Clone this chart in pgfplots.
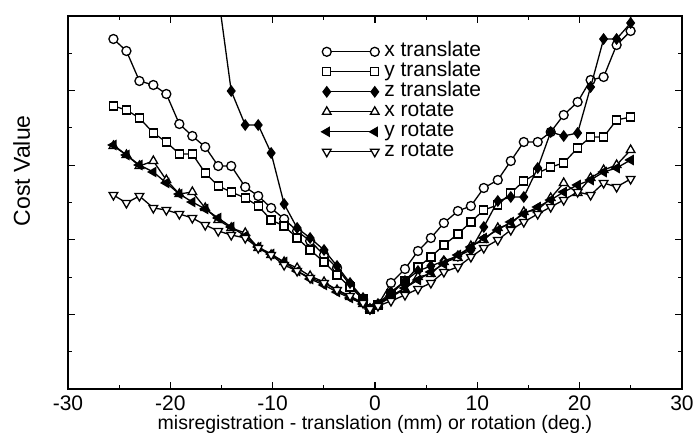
\documentclass[border=0pt]{standalone}
\usepackage{fontspec}
\setmainfont{Liberation Sans}
\usepackage{pgfplots}
\usepackage{pgfplotstable}
\pgfplotsset{compat=1.18}

% x, x translate, y translate, x rotate, y rotate, z rotate  (y in plot units, 0..373)
\pgfplotstableread{
x      xt  yt  xr  yr  zr
-25.56 350 283 243 244 194
-24.29 338 279 234 234 186
-23.02 308 271 223 224 193
-21.66 304 256 228 217 181
-20.39 295 247 209 206 179
-19.12 265 235 195 195 175
-17.85 253 235 197 187 171
-16.59 242 216 181 180 164
-15.32 223 203 169 171 158
-14.05 223 197 161 162 154
-12.68 202 191 156 153 151
-11.41 193 183 141 142 141
-10.15 181 169 134 135 134
-8.88  170 163 127 127 124
-7.61  158 151 121 118 118
-6.34  148 139 113 110 111
-4.98  134 127 107 104 106
-3.71  121 114 99  97  99
-2.44  104 102 92  91  93
-1.17  90  90  85  85  86
-0.49  80  80  80  80  80
0.29   84  84  84  85  83
1.56   106 95  92  93  88
2.93   120 108 100 101 94
4.20   138 122 112 109 100
5.46   151 132 115 117 106
6.73   166 144 127 125 117
8.10   178 155 131 134 122
9.37   183 167 143 142 132
10.63  201 179 149 151 141
12.00  209 184 161 159 149
13.27  228 196 165 167 159
14.54  247 208 177 175 167
15.90  247 216 179 182 175
17.17  257 222 191 189 182
18.44  274 226 206 197 189
19.80  287 241 196 204 197
21.07  309 252 211 209 194
22.34  312 252 219 217 206
23.61  344 269 224 221 202
24.98  358 272 239 229 210
}\rot

\pgfplotstableread{
x      zt
-15.32 394
-14.05 298
-12.68 264
-11.41 264
-10.15 236
-8.88  185
-7.61  161
-6.34  151
-4.98  139
-3.71  123
-2.44  106
-1.17  91
-0.49  80
0.29   85
1.56   97
2.93   108
4.20   118
5.46   123
6.73   128
8.10   133
9.37   139
10.63  162
12.00  188
13.27  192
14.54  192
15.90  221
17.17  257
18.44  253
19.80  256
21.07  302
22.34  350
23.61  350
24.98  366
25.00  480
}\ztr

\begin{document}
\begin{tikzpicture}
\begin{axis}[
  at={(0,0)}, anchor=south west,
  scale only axis, width=614bp, height=373bp,
  xmin=-30, xmax=30, ymin=0, ymax=373,
  xtick={-30,-20,...,30}, minor x tick num=1,
  ytick={0,74.6,149.2,223.8,298.4,373}, minor y tick num=1, yticklabels={},
  major tick length=7bp, minor tick length=4bp,
  tick style={line width=1.1bp, black},
  axis line style={line width=1.6bp},
  clip marker paths=true,
  /pgf/number format/assume math mode=true,
  xticklabel style={font=\fontsize{21bp}{23bp}\selectfont, anchor=base, yshift=-21bp, text depth=0pt},
  xlabel={misregistration - translation (mm) or rotation (deg.)},
  xlabel style={font=\fontsize{19.5bp}{22bp}\selectfont, at={(axis description cs:0.5,0)}, anchor=base, yshift=-40bp, text height=14bp},
  ylabel={Cost Value},
  ylabel style={font=\fontsize{23bp}{26bp}\selectfont, at={(axis description cs:-0.062,0.585)}, anchor=base},
  legend style={at={(axis description cs:0.413,0.930)}, anchor=north west, draw=none, fill=none,
    inner sep=0pt, row sep=1bp, column sep=5bp,
    font=\fontsize{21bp}{24bp}\selectfont,
    nodes={inner sep=0pt, text height=14bp, text depth=5bp}},
  legend cell align=left,
  legend image code/.code={\draw[mark repeat=2,mark phase=1,#1] plot coordinates {(0bp,0bp) (24bp,0bp) (48bp,0bp)};},
  every axis plot/.append style={black, line width=1.3bp},
]
\addplot[mark=*, mark size=4.5bp, mark options={fill=white, solid}] table[x=x, y=xt] {\rot};
\addlegendentry{x translate}
\addplot[mark=square*, mark size=4bp, mark options={fill=white, solid}] table[x=x, y=yt] {\rot};
\addlegendentry{y translate}
\addplot[mark=diamond*, mark size=5bp, mark options={fill=black, solid}] table[x=x, y=zt] {\ztr};
\addlegendentry{z translate}
\addplot[mark=triangle*, mark size=5bp, mark options={fill=white, solid}] table[x=x, y=xr] {\rot};
\addlegendentry{x rotate}
\addplot[mark=triangle*, mark size=5bp, mark options={fill=black, solid, rotate=90}] table[x=x, y=yr] {\rot};
\addlegendentry{y rotate}
\addplot[mark=triangle*, mark size=5bp, mark options={fill=white, solid, rotate=180}] table[x=x, y=zr] {\rot};
\addlegendentry{z rotate}
\end{axis}
\pgfresetboundingbox
\useasboundingbox (-68bp,-44bp) rectangle (629bp,389bp);
\end{tikzpicture}
\end{document}
